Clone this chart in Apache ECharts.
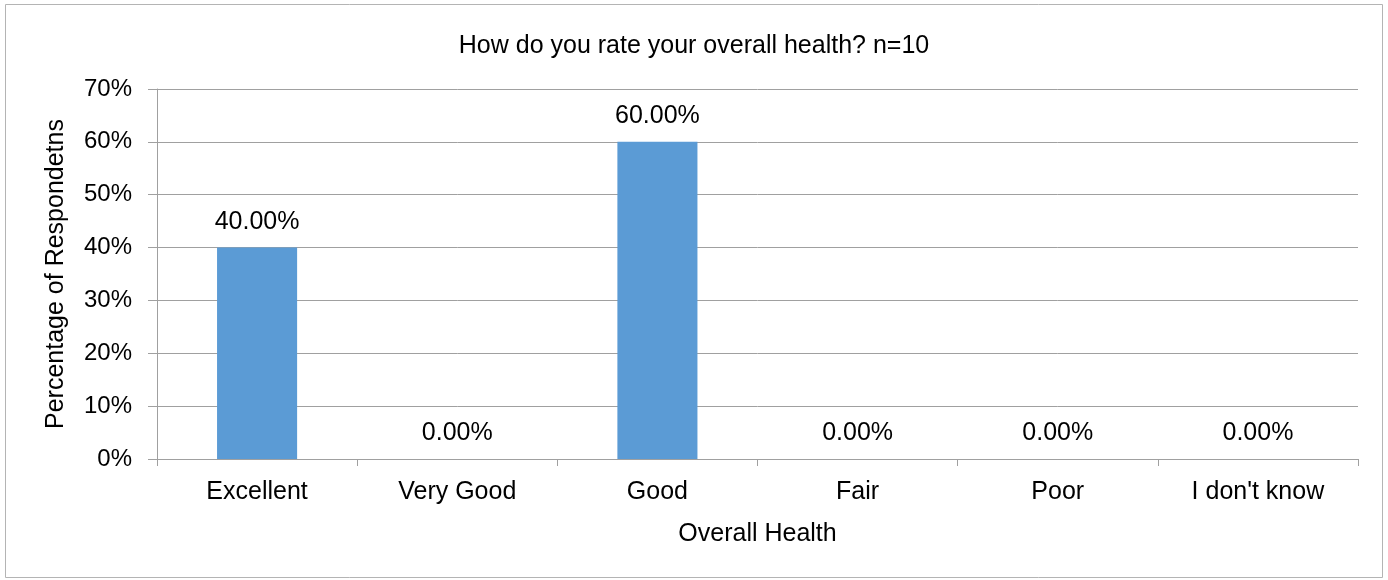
<!DOCTYPE html>
<html>
<head>
<meta charset="utf-8">
<script src="https://cdn.jsdelivr.net/npm/echarts@6/dist/echarts.min.js"></script>
<style>
html,body{margin:0;padding:0;background:#fff;}
#chart{width:1388px;height:580px;}
</style>
</head>
<body>
<div id="chart"></div>
<script>
const titleText = 'How do you rate your overall health? n=10';
const categories = ['Excellent', 'Very Good', 'Good', 'Fair', 'Poor', "I don't know"];
const values = [40, 0, 60, 0, 0, 0];
const yAxisName = 'Percentage of Respondetns';
const xAxisName = 'Overall Health';

const font = '"Liberation Sans", Arial, sans-serif';
const chart = echarts.init(document.getElementById('chart'));
chart.setOption({
  animation: false,
  backgroundColor: '#fff',
  title: {
    text: titleText,
    left: 'center',
    top: 29,
    textStyle: {fontFamily: font, fontSize: 25, fontWeight: 'normal', color: '#000'}
  },
  graphic: [{
    type: 'rect',
    shape: {x: 5.5, y: 4.5, width: 1377, height: 573},
    style: {fill: 'none', stroke: '#b4b4b4', lineWidth: 1},
    silent: true
  }],
  grid: {left: 157, right: 30, top: 89, bottom: 121},
  xAxis: {
    type: 'category',
    data: categories,
    name: xAxisName,
    nameLocation: 'middle',
    nameGap: 63,
    nameTextStyle: {fontFamily: font, fontSize: 25, color: '#000'},
    axisLine: {lineStyle: {color: '#a0a0a0', width: 1}},
    axisTick: {show: true, length: 7, lineStyle: {color: '#a0a0a0'}},
    axisLabel: {fontFamily: font, fontSize: 25, color: '#000', margin: 21}
  },
  yAxis: {
    type: 'value',
    min: 0, max: 70, interval: 10,
    name: yAxisName,
    nameLocation: 'middle',
    nameGap: 88,
    nameTextStyle: {fontFamily: font, fontSize: 25, color: '#000'},
    axisLine: {show: true, lineStyle: {color: '#a0a0a0', width: 1}},
    axisTick: {show: true, length: 9, lineStyle: {color: '#a0a0a0'}},
    axisLabel: {fontFamily: font, fontSize: 24, color: '#000', margin: 25, formatter: '{value}%'},
    splitLine: {show: true, lineStyle: {color: '#a0a0a0', width: 1}}
  },
  series: [{
    type: 'bar',
    data: values,
    barWidth: '40%',
    itemStyle: {color: '#5b9bd5'},
    label: {
      show: true,
      position: 'top',
      distance: 13,
      fontFamily: font,
      fontSize: 25,
      color: '#000',
      formatter: p => p.value.toFixed(2) + '%'
    }
  }]
});
</script>
</body>
</html>
